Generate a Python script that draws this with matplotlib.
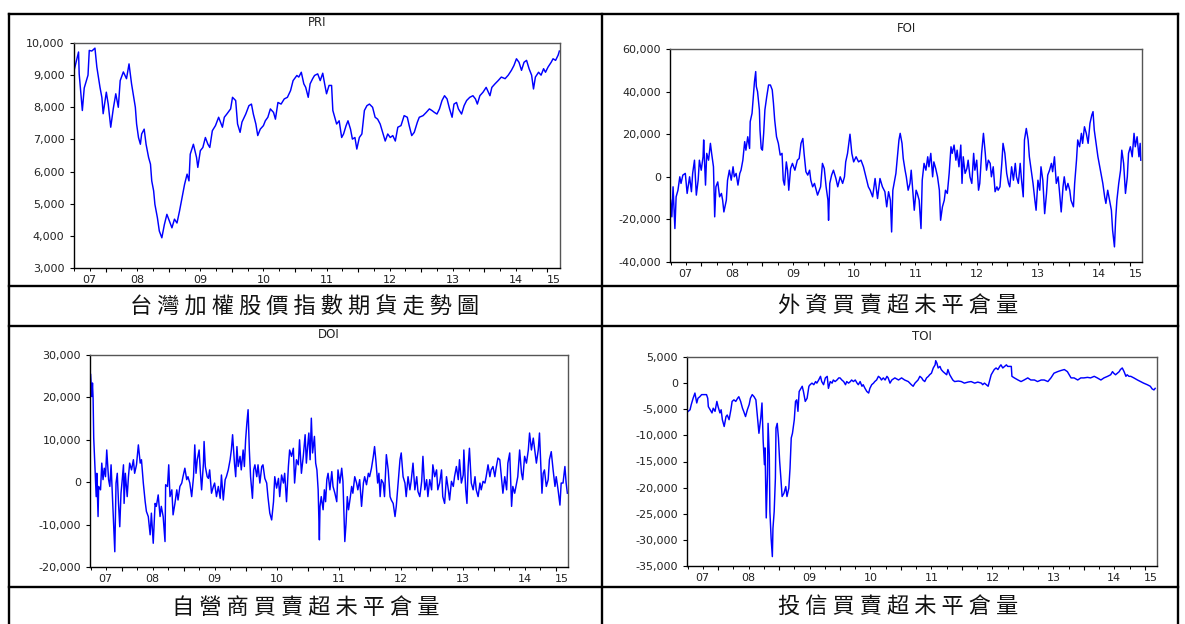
import matplotlib.pyplot as plt
from matplotlib.lines import Line2D
from matplotlib.ticker import FuncFormatter, MultipleLocator

W, H = 1185, 624
X_START, X_END = 2007.49, 2015.2
YEARS = list(range(2007, 2016))

# futures index (PRI)
pri_t = [2007.50, 2007.57, 2007.58, 2007.63, 2007.66, 2007.72, 2007.74, 2007.78, 2007.83, 2007.86,
         2007.91, 2007.94, 2007.96, 2008.01, 2008.04, 2008.08, 2008.12, 2008.16, 2008.20, 2008.23,
         2008.28, 2008.33, 2008.37, 2008.41, 2008.47, 2008.49, 2008.52, 2008.55, 2008.57, 2008.61,
         2008.64, 2008.68, 2008.71, 2008.73, 2008.76, 2008.78, 2008.82, 2008.85, 2008.89, 2008.93,
         2008.97, 2009.01, 2009.05, 2009.09, 2009.13, 2009.17, 2009.21, 2009.25, 2009.29, 2009.32,
         2009.34, 2009.39, 2009.44, 2009.46, 2009.50, 2009.54, 2009.58, 2009.62, 2009.65, 2009.69,
         2009.74, 2009.79, 2009.85, 2009.88, 2009.92, 2009.98, 2010.01, 2010.06, 2010.09, 2010.13,
         2010.16, 2010.22, 2010.27, 2010.31, 2010.34, 2010.38, 2010.41, 2010.45, 2010.50, 2010.53,
         2010.57, 2010.61, 2010.66, 2010.69, 2010.73, 2010.78, 2010.83, 2010.88, 2010.93, 2010.97,
         2011.03, 2011.06, 2011.10, 2011.14, 2011.17, 2011.21, 2011.24, 2011.28, 2011.31, 2011.36,
         2011.40, 2011.44, 2011.47, 2011.50, 2011.54, 2011.58, 2011.60, 2011.63, 2011.66, 2011.70,
         2011.74, 2011.77, 2011.81, 2011.84, 2011.88, 2011.91, 2011.95, 2011.98, 2012.02, 2012.06,
         2012.10, 2012.14, 2012.18, 2012.23, 2012.27, 2012.31, 2012.35, 2012.39, 2012.43, 2012.47,
         2012.51, 2012.55, 2012.59, 2012.63, 2012.68, 2012.73, 2012.78, 2012.81, 2012.85, 2012.89,
         2012.94, 2012.97, 2013.03, 2013.08, 2013.13, 2013.17, 2013.21, 2013.25, 2013.29, 2013.33,
         2013.37, 2013.41, 2013.45, 2013.49, 2013.52, 2013.56, 2013.59, 2013.64, 2013.68, 2013.72,
         2013.77, 2013.82, 2013.86, 2013.89, 2013.93, 2013.98, 2014.03, 2014.09, 2014.12, 2014.17,
         2014.22, 2014.27, 2014.33, 2014.38, 2014.43, 2014.47, 2014.51, 2014.55, 2014.59, 2014.63,
         2014.67, 2014.71, 2014.75, 2014.78, 2014.81, 2014.86, 2014.90, 2014.94, 2014.97, 2015.01,
         2015.06, 2015.09, 2015.13, 2015.17, 2015.19]
pri = [9150, 9720, 9040, 7900, 8600, 9000, 9770, 9750, 9840, 9250,
       8620, 8300, 7800, 8470, 8100, 7380, 7950, 8420, 8000, 8830,
       9100, 8890, 9350, 8730, 8000, 7480, 7060, 6850, 7170, 7320,
       6850, 6440, 6230, 5710, 5400, 4980, 4560, 4150, 3940, 4350,
       4670, 4460, 4250, 4520, 4400, 4770, 5190, 5600, 5920, 5710,
       6540, 6850, 6440, 6130, 6650, 6750, 7060, 6850, 6750, 7270,
       7430, 7690, 7380, 7690, 7790, 7950, 8310, 8210, 7480, 7220,
       7540, 7790, 8050, 8100, 7790, 7480, 7120, 7320, 7430, 7580,
       7690, 7950, 7840, 7630, 8150, 8100, 8260, 8310, 8520, 8830,
       8990, 8940, 9090, 8730, 8620, 8310, 8730, 8890, 8990, 9040,
       8830, 9060, 8730, 8420, 8680, 8680, 7900, 7690, 7480, 7580,
       7060, 7170, 7430, 7580, 7320, 7010, 7060, 6700, 7060, 7170,
       7900, 8050, 8100, 8000, 7690, 7630, 7480, 7220, 6950, 7170,
       7060, 7120, 6950, 7380, 7430, 7740, 7690, 7430, 7120, 7220,
       7540, 7690, 7740, 7840, 7950, 7900, 7840, 7790, 7950, 8210,
       8360, 8260, 7950, 7690, 8100, 8150, 7950, 7790, 8050, 8210,
       8310, 8360, 8260, 8100, 8360, 8470, 8620, 8360, 8620, 8730,
       8830, 8940, 8890, 9000, 9150, 9300, 9510, 9400, 9150, 9400,
       9460, 9200, 9000, 8570, 8940, 9090, 9000, 9200, 9090, 9250,
       9400, 9510, 9460, 9620, 9750]

# foreign investors' net open interest (FOI)
foi_t = [2007.50, 2007.52, 2007.54, 2007.57, 2007.59, 2007.62, 2007.65, 2007.67, 2007.70, 2007.74,
         2007.77, 2007.81, 2007.84, 2007.86, 2007.89, 2007.92, 2007.95, 2007.97, 2008.00,
         2008.03, 2008.04, 2008.07, 2008.09, 2008.12, 2008.15, 2008.17, 2008.20, 2008.22, 2008.24,
         2008.27, 2008.30, 2008.33, 2008.35, 2008.37, 2008.41, 2008.43, 2008.46, 2008.49, 2008.52,
         2008.54, 2008.57, 2008.60, 2008.63, 2008.65, 2008.68, 2008.71, 2008.73, 2008.76, 2008.79,
         2008.80, 2008.83, 2008.85, 2008.87, 2008.89, 2008.90, 2008.92, 2008.95, 2008.96, 2008.98,
         2009.00, 2009.02, 2009.04, 2009.07, 2009.10, 2009.13, 2009.16, 2009.18, 2009.20, 2009.23,
         2009.26, 2009.29, 2009.32, 2009.34,
         2009.36, 2009.39, 2009.41, 2009.43, 2009.46, 2009.49, 2009.53, 2009.57, 2009.60, 2009.63,
         2009.66, 2009.68, 2009.71, 2009.74, 2009.77, 2009.79, 2009.82, 2009.85, 2009.88, 2009.90,
         2009.95, 2009.98, 2010.01, 2010.04, 2010.07,
         2010.08, 2010.10, 2010.13, 2010.16, 2010.20, 2010.23, 2010.27, 2010.31, 2010.34, 2010.36,
         2010.39, 2010.42, 2010.43, 2010.46, 2010.49, 2010.53, 2010.57, 2010.61, 2010.65, 2010.69,
         2010.73, 2010.76, 2010.80, 2010.84, 2010.88, 2010.92, 2010.96, 2011.00,
         2011.03, 2011.06, 2011.09, 2011.11, 2011.13, 2011.15, 2011.18, 2011.21, 2011.23, 2011.25,
         2011.28, 2011.30, 2011.33, 2011.35, 2011.38, 2011.41, 2011.43, 2011.46, 2011.48, 2011.51,
         2011.53, 2011.56, 2011.59, 2011.61, 2011.64, 2011.67, 2011.70, 2011.72, 2011.75, 2011.78,
         2011.80, 2011.83, 2011.86, 2011.89, 2011.91, 2011.94, 2011.97, 2011.99,
         2012.02, 2012.05, 2012.08, 2012.10, 2012.13, 2012.16, 2012.18, 2012.21, 2012.24, 2012.26,
         2012.28, 2012.31, 2012.34, 2012.36, 2012.39, 2012.42, 2012.45, 2012.47, 2012.50, 2012.53,
         2012.55, 2012.58, 2012.61, 2012.64, 2012.66, 2012.69, 2012.72, 2012.74, 2012.77, 2012.80,
         2012.83, 2012.85, 2012.88, 2012.91, 2012.93, 2012.96,
         2012.99, 2013.02, 2013.04, 2013.07, 2013.10, 2013.13, 2013.15, 2013.18, 2013.21, 2013.23,
         2013.26, 2013.28, 2013.31, 2013.34, 2013.36, 2013.39, 2013.42, 2013.45, 2013.47, 2013.50,
         2013.53, 2013.55, 2013.58, 2013.61, 2013.64, 2013.66, 2013.69, 2013.72, 2013.74, 2013.77,
         2013.80, 2013.83, 2013.85, 2013.88, 2013.91, 2013.93, 2013.96, 2013.99, 2014.02, 2014.04,
         2014.08,
         2014.10, 2014.13, 2014.15, 2014.18, 2014.21, 2014.23, 2014.26, 2014.29, 2014.32, 2014.35,
         2014.38, 2014.40, 2014.42, 2014.45, 2014.48, 2014.51, 2014.53, 2014.56, 2014.59, 2014.61,
         2014.64, 2014.67, 2014.70, 2014.72, 2014.75, 2014.77, 2014.79, 2014.82, 2014.85, 2014.87,
         2014.90, 2014.93, 2014.96, 2014.98, 2015.01, 2015.04, 2015.07, 2015.09, 2015.12, 2015.15,
         2015.17, 2015.18]
foi = [-11000, -18800, -4700, -24300, -9400, -6300, 0, -3100, 800, 1600,
       -7800, 0, -7000, 1600, 7800, -8600, -1600, 7800, 3100,
       9400, 17300, -3900, 11000, 7800, 15700, 11000, 4700, -18800, -4700,
       -2400, -9400, -7800, -11000, -16500, -11000, -1600, 3100, -1600, 4700,
       0, 1600, -3900, 1600, 3100, 7800, 16500, 12500, 18800, 13300,
       25900, 29800, 37600, 44700, 49400, 42400, 40000, 31400, 22000, 13300,
       12500, 20400, 31400, 37600, 43100, 43100, 40800, 34500, 26700, 18800,
       15700, 10200, 11000, -1600,
       -3900, 7000, 3100, -6300, 3900, 6300, 3100, 7800, 8600, 15700,
       18000, 11000, 2400, 800, 3100, -1600, -4700, -3100, -6300, -8600,
       -4700, 6300, 3900, -4700, -11000,
       -20400, -3100, 800, 3100, -800, -4700, 0, -3100, 0, 7000,
       11000, 18000, 20000, 11000, 7000, 9400, 7000, 7800, 4700, 0,
       -4700, -6300, -9400, -800, -10200, -800, -4700, -7000,
       -14100, -7000, -11000, -25900, -6300, -3100, 1600, 11000, 17300, 20400,
       15700, 8600, 3100, 0, -6300, -3100, 3100, -7800, -15700, -6300,
       -7800, -11000, -24300, -1600, 6300, 3100, 9400, 4700, 11000, 0,
       7000, 3900, 0, -6300, -20400, -14100, -11000, -6300,
       -7800, 1600, 14100, 11000, 14900, 7800, 12500, 4700, 14900, -3100,
       9400, 1600, 3900, 7800, 0, -3100, 11000, 3100, 7800, -6300,
       -3100, 11000, 20400, 11000, 3100, 7800, 6300, 0, 4700, -7000,
       -4700, -6300, -4700, 6300, 15700, 11000,
       1600, -3100, -4700, 4700, -1600, 6300, 0, -3100, 6300, -800,
       -9400, 17300, 22700, 17300, 9400, 3100, -3100, -11000, -15700, -1600,
       -6300, 4700, -1600, -17300, -7800, 800, 3100, 6300, 2400, 9400,
       -3100, 0, -6300, -16500, -4700, 0, -6300, -3100, -6300, -11000,
       -14100,
       -3100, 7800, 17300, 14100, 20400, 15700, 23500, 20400, 15700, 25100,
       29000, 30600, 22000, 15700, 9400, 4700, 1600, -3100, -9400, -12500,
       -6300, -11000, -15700, -25100, -32900, -19600, -11000, -3100, 3100, 12500,
       6300, -7800, 0, 11000, 14100, 9400, 20400, 14100, 18800, 9400,
       15700, 7800]

# dealers' net open interest (DOI)
doi_t = [2007.50, 2007.52, 2007.53, 2007.54, 2007.55, 2007.57, 2007.59, 2007.60, 2007.62, 2007.63,
         2007.66, 2007.68, 2007.70, 2007.72, 2007.74, 2007.76, 2007.79, 2007.81, 2007.83, 2007.85,
         2007.87, 2007.89, 2007.91, 2007.93, 2007.95, 2007.97, 2007.99, 2008.01, 2008.03, 2008.04,
         2008.06, 2008.09, 2008.11, 2008.13, 2008.16, 2008.19, 2008.21, 2008.24, 2008.27, 2008.30,
         2008.32, 2008.35, 2008.38, 2008.40, 2008.43, 2008.46, 2008.48, 2008.51, 2008.54, 2008.56,
         2008.59, 2008.62, 2008.64, 2008.67, 2008.70, 2008.71, 2008.74, 2008.76, 2008.78, 2008.81,
         2008.83, 2008.86, 2008.89, 2008.91, 2008.94, 2008.97, 2008.99, 2009.02, 2009.05, 2009.07,
         2009.10, 2009.13, 2009.16, 2009.18, 2009.20, 2009.22, 2009.25, 2009.27, 2009.29, 2009.32,
         2009.33, 2009.35, 2009.38, 2009.40, 2009.42, 2009.45, 2009.48, 2009.50, 2009.53, 2009.56,
         2009.59, 2009.61, 2009.64, 2009.67, 2009.69, 2009.72, 2009.75, 2009.77, 2009.79, 2009.82,
         2009.84, 2009.86, 2009.88, 2009.91, 2009.93, 2009.96, 2009.98, 2010.00, 2010.02, 2010.04,
         2010.06, 2010.08, 2010.11, 2010.13, 2010.15, 2010.18, 2010.20, 2010.23, 2010.26, 2010.28,
         2010.31, 2010.34, 2010.36, 2010.39, 2010.42, 2010.45, 2010.47, 2010.50, 2010.53, 2010.55,
         2010.58, 2010.61, 2010.63, 2010.66, 2010.69, 2010.71, 2010.74, 2010.77, 2010.79, 2010.82,
         2010.85, 2010.87, 2010.90, 2010.93, 2010.96, 2010.98, 2011.00, 2011.02, 2011.04, 2011.06,
         2011.08, 2011.11, 2011.13, 2011.15, 2011.17, 2011.19, 2011.20, 2011.22, 2011.25, 2011.27,
         2011.29, 2011.31, 2011.33, 2011.36, 2011.39, 2011.41, 2011.44, 2011.47, 2011.49, 2011.52,
         2011.55, 2011.57, 2011.60, 2011.62, 2011.64, 2011.66, 2011.69, 2011.71, 2011.73, 2011.76,
         2011.79, 2011.81, 2011.84, 2011.87, 2011.90, 2011.92, 2011.95, 2011.98, 2012.00, 2012.03,
         2012.06, 2012.08, 2012.10, 2012.13, 2012.15, 2012.17, 2012.19, 2012.22, 2012.24, 2012.27,
         2012.30, 2012.33, 2012.35, 2012.38, 2012.41, 2012.43, 2012.46, 2012.49, 2012.51, 2012.54,
         2012.57, 2012.59, 2012.62, 2012.65, 2012.67, 2012.70, 2012.73, 2012.76, 2012.78, 2012.81,
         2012.84, 2012.86, 2012.89, 2012.92, 2012.94, 2012.97, 2013.00, 2013.02, 2013.05, 2013.08,
         2013.10, 2013.13, 2013.16, 2013.18, 2013.21, 2013.24, 2013.27, 2013.29, 2013.32, 2013.35,
         2013.37, 2013.40, 2013.43, 2013.45, 2013.48, 2013.51, 2013.52, 2013.55, 2013.57, 2013.59,
         2013.61, 2013.64, 2013.67, 2013.70, 2013.72, 2013.75, 2013.78, 2013.80, 2013.83, 2013.86,
         2013.88, 2013.91, 2013.94, 2013.96, 2013.99, 2014.02, 2014.04, 2014.07, 2014.10, 2014.13,
         2014.15, 2014.18, 2014.21, 2014.23, 2014.26, 2014.29, 2014.31, 2014.34, 2014.37, 2014.39,
         2014.42, 2014.45, 2014.47, 2014.50, 2014.53, 2014.56, 2014.58, 2014.61, 2014.64, 2014.66,
         2014.69, 2014.72, 2014.74, 2014.76, 2014.78, 2014.80, 2014.82, 2014.85, 2014.88, 2014.90,
         2014.93, 2014.96, 2014.99, 2015.01, 2015.04, 2015.07, 2015.09, 2015.12, 2015.15, 2015.17,
         2015.19]
doi = [25400, 20200, 23400, 19800, 10400, 3700, -3400, 2100, -8100, -1000,
       -1800, 4500, 600, 3300, 1300, 7600, 600, -1000, 4100, -2600,
       -8900, -16400, -200, 2100, -5000, -10500, -2600, 600, 4100, -5000,
       2100, -3400, 1300, 4500, 2900, 5300, 2100, 4100, 8800, 4500,
       5300, -200, -4600, -6900, -8100, -12400, -7300, -14400, -5000, -5700,
       -3000, -8100, -5700, -8100, -14000, -600, -1000, 4100, -3400, -1800,
       -7700, -5000, -1800, -4200, -1000, -200, 1300, 3300, 600, 1300,
       -200, -3400, 1300, 8800, 2100, 5300, 7600, 2500, -1800, 4500,
       9600, 3700, 1300, 900, 2900, -2600, -1000, -200, -3400, -1000,
       -3800, 1700, -4200, 600, 1300, 2900, 5300, 7600, 11200, 4500,
       1300, 8400, 3700, 6100, 2900, 7600, 3700, 10000, 13900, 17100,
       7600, 1300, -3800, 2900, 4100, 1300, 4100, -200, 3700, 4100,
       900, -200, -3400, -7300, -8900, -4600, 1300, -1400, 900, -3400,
       1700, -200, 2100, -4600, 3700, 7600, 6100, 8000, -200, 5300,
       4100, 10000, 2100, 6100, 11200, 4500, 8400, 11600, 5300, 15100,
       6900, 10800, 4500, 2900, -1800, -13600, -5700, -3400, -6500, -1800,
       -4600, 600, 2100, -1800, 2500, -1000, -2600, -4600, 2900, -200,
       3300, 200, -14000, -9700, -3400, -6500, -3400, -1000, -2600, 1300,
       -200, -1800, 600, -5700, -200, 1300, -600, 2100, 1300, 3300,
       6100, 8400, 5300, -200, 2100, -3400, 600, -200, -3400, 6500,
       2900, -3400, -4200, -5000, -8100, -5700, -200, 5300, 6900, 1300,
       -200, -3400, 1300, -1800, 200, 4500, -1800, 1300, -2200, -3400,
       200, 6100, -1800, 600, -3400, 600, -1800, 4100, 1300, 2900,
       -1800, -200, 2900, -3400, -5000, 1300, -1800, -4200, 200, -1000,
       1300, 3700, 600, 5300, -200, 1700, 7600, -1800, -5000, 3700,
       8000, -200, -1800, 1300, -1800, -3400, -200, -1800, 200, -200,
       1300, 4100, 1300, 2900, 3700, 1300, 3300, 5700, 5300, 600,
       -2600, 1300, -1800, 4500, 6900, -5700, -1000, -2600, -200, 1300,
       7600, 2100, 600, 6100, 4500, 7600, 11600, 7600, 10400, 8000,
       4500, 7600, 11600, 4500, -2600, 2100, 2900, -1000, 600, 5300,
       7200, 2900, -1000, 1300, -1800, -5400, -200, -200, 3700, -200,
       -2600]

# investment trusts' net open interest (TOI)
toi_t = [2007.51, 2007.54, 2007.56, 2007.59, 2007.62, 2007.65, 2007.67, 2007.70, 2007.73, 2007.77,
         2007.81, 2007.83, 2007.84, 2007.87, 2007.90, 2007.92, 2007.95, 2007.98, 2008.00, 2008.03,
         2008.05, 2008.07, 2008.10, 2008.13, 2008.15, 2008.18, 2008.21, 2008.23, 2008.26, 2008.29,
         2008.32, 2008.34, 2008.37, 2008.40, 2008.42, 2008.45, 2008.48, 2008.51, 2008.53, 2008.56,
         2008.59, 2008.62, 2008.64, 2008.67, 2008.70, 2008.72, 2008.74, 2008.76, 2008.77, 2008.79,
         2008.81, 2008.82, 2008.84, 2008.85, 2008.87, 2008.89, 2008.90, 2008.92, 2008.94, 2008.95,
         2008.97, 2008.99, 2009.01, 2009.03, 2009.05, 2009.08, 2009.11, 2009.13, 2009.16, 2009.18,
         2009.20, 2009.22, 2009.25, 2009.27, 2009.29, 2009.31, 2009.33, 2009.36, 2009.38, 2009.40,
         2009.43, 2009.46, 2009.49, 2009.51, 2009.54, 2009.57, 2009.60, 2009.62, 2009.65, 2009.68,
         2009.70, 2009.73, 2009.76, 2009.79, 2009.81, 2009.84, 2009.87, 2009.89, 2009.92, 2009.95,
         2009.98, 2010.00, 2010.03, 2010.06, 2010.09, 2010.11, 2010.14, 2010.17, 2010.19, 2010.22,
         2010.25, 2010.28, 2010.30, 2010.33, 2010.36, 2010.38, 2010.41, 2010.44, 2010.47, 2010.49,
         2010.52, 2010.55, 2010.57, 2010.60, 2010.63, 2010.66, 2010.68, 2010.71, 2010.74, 2010.77,
         2010.79, 2010.82, 2010.85, 2010.90, 2010.96, 2011.01, 2011.06, 2011.12, 2011.17, 2011.20,
         2011.23, 2011.28, 2011.31, 2011.34, 2011.36, 2011.39, 2011.42, 2011.45, 2011.47, 2011.50,
         2011.53, 2011.56, 2011.57, 2011.59, 2011.61, 2011.64, 2011.66, 2011.69, 2011.72, 2011.75,
         2011.77, 2011.80, 2011.83, 2011.85, 2011.88, 2011.94, 2011.99, 2012.04, 2012.10, 2012.15,
         2012.21, 2012.26, 2012.32, 2012.34, 2012.37, 2012.40, 2012.43, 2012.45, 2012.48, 2012.51,
         2012.53, 2012.56, 2012.59, 2012.62, 2012.64, 2012.67, 2012.70, 2012.73, 2012.75, 2012.78,
         2012.81, 2012.82, 2012.86, 2012.92, 2012.97, 2013.02, 2013.08, 2013.13, 2013.19, 2013.24,
         2013.30, 2013.35, 2013.41, 2013.46, 2013.51, 2013.57, 2013.62, 2013.68, 2013.73, 2013.76,
         2013.79, 2013.84, 2013.90, 2013.95, 2014.00, 2014.06, 2014.11, 2014.17, 2014.22, 2014.28,
         2014.33, 2014.39, 2014.44, 2014.47, 2014.49, 2014.52, 2014.55, 2014.58, 2014.60, 2014.63,
         2014.66, 2014.69, 2014.71, 2014.74, 2014.77, 2014.82, 2014.88, 2014.93, 2014.98, 2015.04,
         2015.09, 2015.12, 2015.15, 2015.17]
toi = [-5400, -5100, -4100, -2900, -1900, -3800, -2900, -2600, -2200, -2200,
       -2200, -2900, -4500, -5100, -5700, -4800, -5400, -3500, -4500, -5700,
       -5100, -7000, -8300, -6400, -6100, -7000, -5100, -3500, -3200, -3500,
       -2900, -2600, -3500, -4800, -5400, -6400, -5100, -4100, -2900, -2200,
       -2600, -3200, -5700, -9600, -6700, -3800, -11200, -15600, -12400, -25800,
       -17500, -7700, -13700, -24600, -29700, -33200, -27800, -24600, -18200, -8600,
       -7700, -10500, -15000, -18200, -21700, -21100, -19800, -21700, -20100, -16300,
       -10500, -9600, -7000, -3500, -3200, -5400, -1600, -1000, -600, -1600,
       -3500, -2900, -600, -300, 0, -300, 300, 0, 600, 1300,
       300, -300, 1000, 1300, -1000, 300, 0, 600, 300, 600,
       1000, 1000, 600, 300, -300, 300, 0, 300, 600, 300,
       600, 0, -300, 300, -600, -300, -1000, -1600, -1900, -1000,
       -300, 0, 300, 600, 1300, 1000, 600, 1000, 600, 1300,
       1000, 0, 600, 1000, 600, 1000, 600, 300, -300, -600,
       0, 600, 1300, 1000, 600, 300, 1000, 1300, 1600, 1900,
       2900, 3500, 4300, 3800, 2900, 3200, 2600, 2200, 1900, 1600,
       2600, 1600, 1000, 600, 300, 400, 300, 0, 200, 300,
       0, 200, 0, -300, 0, -300, -600, 300, 1600, 2200,
       2600, 2900, 2600, 3200, 3500, 2900, 3200, 3500, 3200, 3200,
       3200, 1300, 1000, 600, 300, 600, 1000, 600, 600, 300,
       600, 600, 300, 1000, 1900, 2200, 2400, 2600, 2200, 1600,
       1000, 1000, 600, 1000, 1000, 1100, 1000, 1300, 1000, 600,
       1000, 1300, 1600, 2200, 1900, 1600, 1900, 2200, 2600, 2900,
       2200, 1300, 1600, 1300, 1300, 1000, 600, 300, 0, -300,
       -600, -1100, -1300, -1000]

captions = ['台灣加權股價指數期貨走勢圖', '外資買賣超未平倉量',
            '自營商買賣超未平倉量', '投信買賣超未平倉量']

plt.rcParams['font.family'] = ['DejaVu Sans']
fig = plt.figure(figsize=(W / 100, H / 100), dpi=100)


def px_rect(left, top, right, bottom):
    return [left / W, 1 - bottom / H, (right - left) / W, (bottom - top) / H]


def hline(y, x0=8.5, x1=1178):
    fig.add_artist(Line2D([x0 / W, x1 / W], [1 - y / H, 1 - y / H],
                          color='black', lw=1.7, solid_capstyle='projecting'))


def vline(x, y0=14, y1=624):
    fig.add_artist(Line2D([x / W, x / W], [1 - y0 / H, 1 - y1 / H],
                          color='black', lw=1.7, solid_capstyle='projecting'))


def panel(box, t, v, name, lo, hi, step):
    ax = fig.add_axes(px_rect(*box))
    ax.plot(t, v, color='#0000ff', lw=1.05)
    ax.set_xlim(X_START, X_END)
    ax.set_ylim(lo, hi)
    ax.yaxis.set_major_locator(MultipleLocator(step))
    ax.yaxis.set_major_formatter(FuncFormatter(lambda y, p: f'{y:,.0f}'))
    ax.set_xticks(range(2008, 2016))
    ax.set_xticklabels([])
    ax.xaxis.set_minor_locator(MultipleLocator(0.25))
    ax.tick_params(which='major', direction='out', length=3, width=0.8,
                   labelsize=8, labelcolor='#222222', pad=3.5)
    ax.tick_params(which='minor', direction='out', length=1.8, width=0.7)
    ax.tick_params(axis='y', which='minor', left=False)
    for side, sp in ax.spines.items():
        sp.set_linewidth(1.0)
        sp.set_color('black' if side in ('left', 'bottom') else '#555555')
    # two-digit year labels centred in each year's span
    for yr in YEARS:
        a, b = max(yr, X_START), min(yr + 1, X_END)
        if b > a:
            ax.annotate(f'{yr % 100:02d}', xy=((a + b) / 2, 0),
                        xycoords=('data', 'axes fraction'), xytext=(0, -5),
                        textcoords='offset points', ha='center', va='top',
                        fontsize=8, color='#222222')
    ax.set_title(name, fontsize=8.5, pad=12.5, color='#222222')
    return ax


panel((73.5, 43, 560, 268), pri_t, pri, 'PRI', 3000, 10000, 1000)
panel((670, 49, 1142, 262), foi_t, foi, 'FOI', -40000, 60000, 20000)
panel((90, 355, 568, 567), doi_t, doi, 'DOI', -20000, 30000, 10000)
panel((687, 357, 1157, 566), toi_t, toi, 'TOI', -35000, 5000, 5000)

# table grid
for y in (14, 285.5, 325.5, 586.5):
    hline(y)
for x in (8.5, 602, 1178):
    vline(x)

cap_pos = [(305, 306), (898, 306), (306, 607), (898, 607)]
for text, (x, y) in zip(captions, cap_pos):
    fig.text(x / W, 1 - y / H, ' '.join(text), fontsize=16,
             family=['Noto Sans CJK TC', 'DejaVu Sans'],
             ha='center', va='center', color='#111111')

fig.savefig('out.png', dpi=100)
